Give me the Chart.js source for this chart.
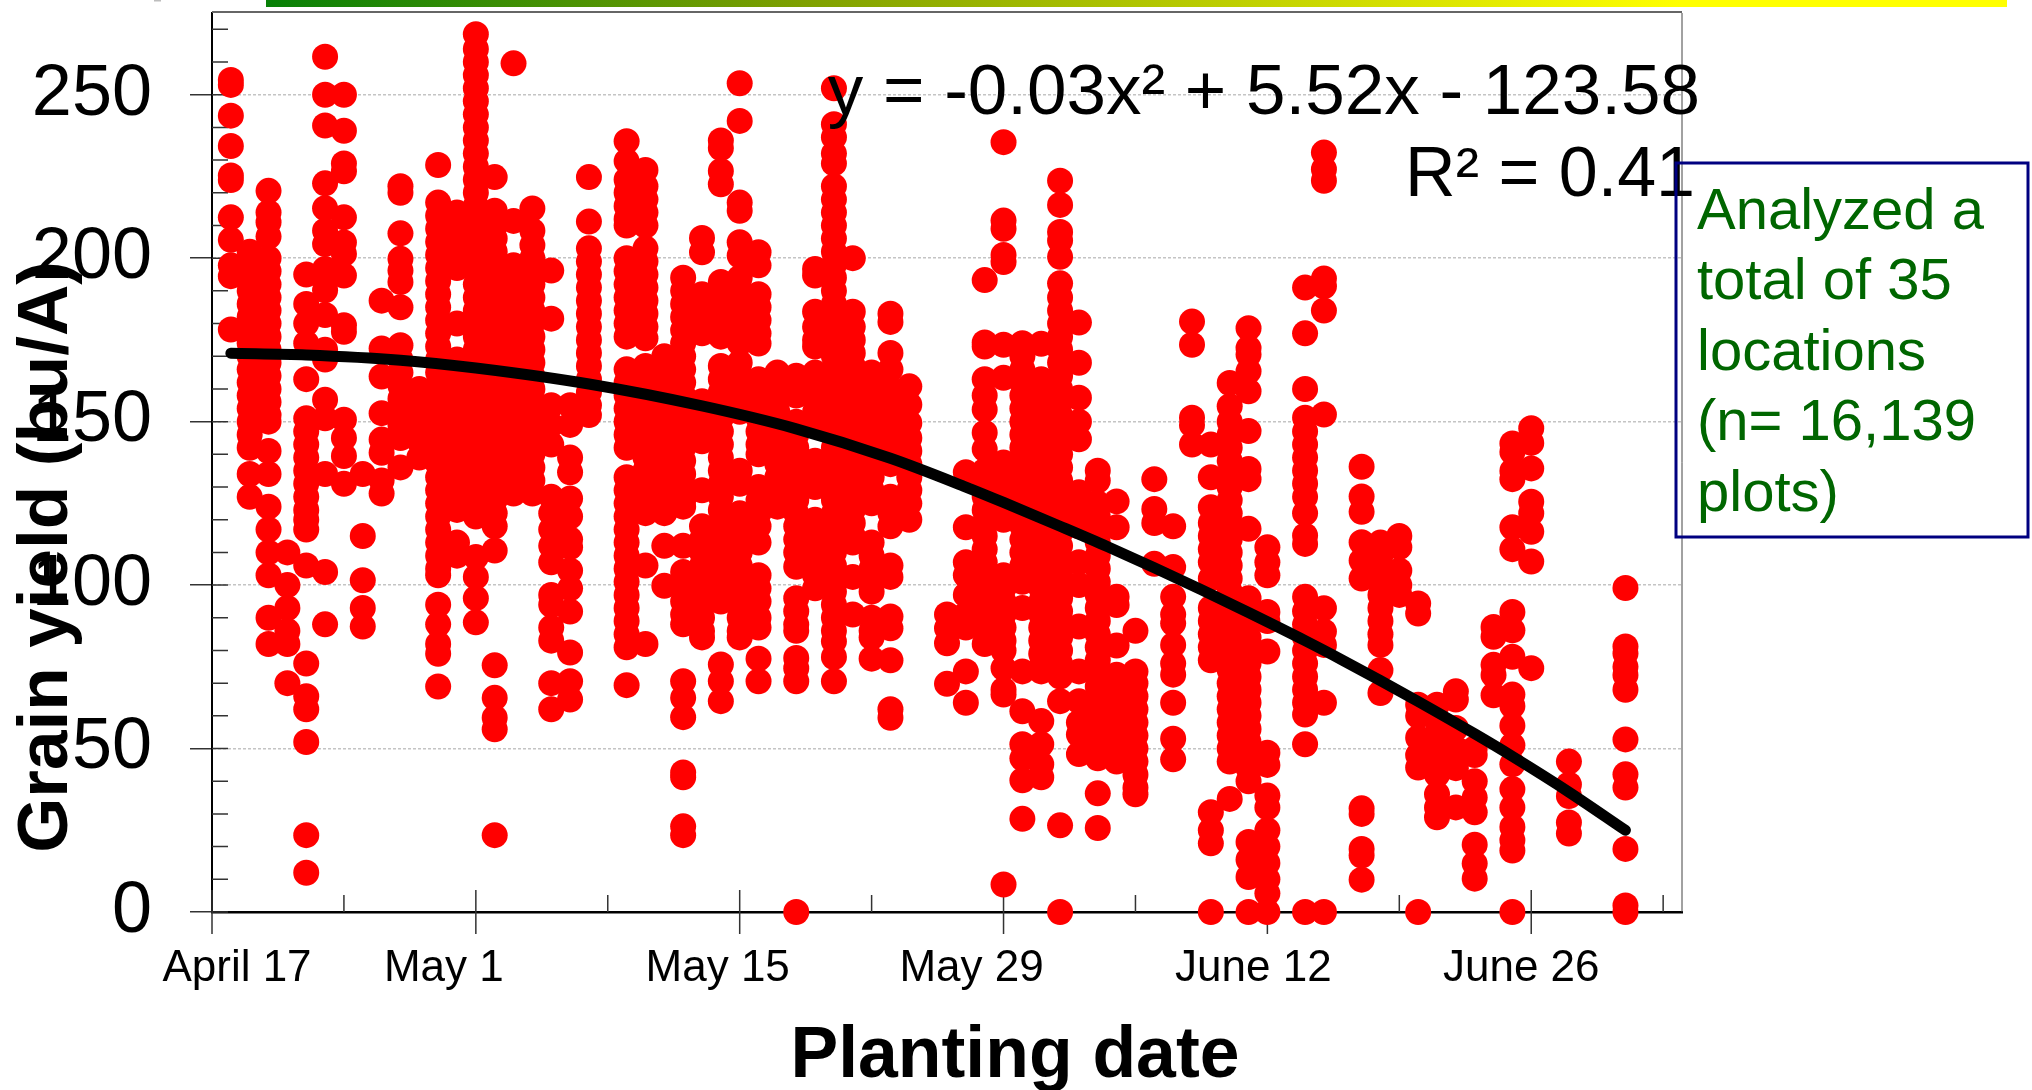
<!DOCTYPE html>
<html>
<head>
<meta charset="utf-8">
<title>Grain yield vs planting date</title>
<script src="https://cdn.jsdelivr.net/npm/chart.js@4/dist/chart.umd.min.js"></script>
<style>
  body { margin: 0; background: #fff; }
  canvas { display: block; }
</style>
</head>
<body>
<canvas id="yieldChart" width="2032" height="1090"></canvas>
<script>
// yields (bu/A), one list per planting day (days after April 17)
const d1 = [254.5,253,243.6,234.3,225.3,223.9,212.5,205.6,197.8,194.5,178.2]
const d2 = [202,198,194,190,186,182,178,174,170,166,162,158,154,150,146,142,134,127]
const d3 = [220.6,214,211,206.6,200,196,192,188,184,180,176,172,168,164,160,156,152,150,141,134,124,117,110,103,90,82]
const d4 = [110,100,93,86,82,70]
const d5 = [195,186,180,174,163,151,147,143,139,135,131,127,123,120,117,106,76,66,62,52,23.5,12]
const d6 = [261.6,250,240.6,222.9,215.3,208.4,204.3,196.7,190.2,182.6,172,169,156.7,151,134,104,88]
const d7 = [250,239,229,226.6,212.5,204.8,201.3,194.7,179.5,177.5,150.6,145,139.5,131]
const d8 = [134,115,101.5,93,87.3]
const d9 = [187,172.4,163.8,152.6,144.5,140.5,132,128]
const d10 = [222,220,207.6,199.8,196.2,192.7,185,173.4,169,165,161,157,153,149,145,136]
const d11 = [160,156,152,148,144,139]
const d12 = [228.5,217,213,209,205,201,197,193,189,185,181,177,173,169,165,161,157,153,149,145,141,137,133,129,125,121,117,113,109,105,103,94,88,82,79,69]
const d13 = [214,210,206,202,197,180,169,165,161,157,153,149,145,141,137,133,129,125,123,113,109]
const d14 = [268.5,264,260,256,252,248,244,240,236,232,228,224,220,216,212,208,204,200,196,192,188,184,180,176,172,168,164,160,156,152,148,144,140,136,132,128,124,121,108.6,102.5,96,88.6]
const d15 = [224.8,214.5,210,206,202,198,194,190,186,182,178,174,170,166,162,158,154,150,146,142,138,134,130,126,122,118,110.6,75.5,65.5,59.4,55.9,23.5]
const d16 = [259.6,211.4,197.8,194,190,186,182,178,174,170,166,162,158,154,150,146,142,138,134,130,128]
const d17 = [215.2,208.4,204,200,196,192,188,184,180,176,172,168,164,160,156,152,148,144,140,136,132,128]
const d18 = [196.2,181.5,155,149,143,127,122,117,112,107,97,94,87,83,70,62]
const d19 = [155,149,139,134.5,126.5,121,114,111.6,104.5,99,91.9,79.4,70.6,65]
const d20 = [224.8,211.2,203,199,195,191,187,183,179,175,171,167,163,159,155,152]
const d22 = [235.8,229.7,224,220,216,212,210,200,196,192,188,184,180,176,166,162,158,154,150,146,142,133,129,125,121,117,113,109,105,101,97,93,89,85,81,69.4]
const d23 = [227,222,218,214,210,203,199,195,191,187,183,179,175.5,167,163,159,155,151,147,143,139,135,131,127,122,106,82]
const d24 = [170,166,162,158,154,150,146,142,138,134,130,126,122,112,99.8]
const d25 = [194,190,186,182,178,174,170,166,162,158,154,150,146,142,138,134,130,126,124,112,104,100,95,91,88,70.6,65.5,59.6,42.7,41.2,26.2,23.5]
const d26 = [206.2,201.8,189,185,181,177,156.2,152,148,144,129,118,114,110,106,102,98,94,90,86,84]
const d27 = [236,233.7,226.7,222.6,192.7,188,184,180,176,167,163,159,155,151,147,143,139,135,131,127,123,119,115,111,107,103,99,95,75.7,70.6,64.5]
const d28 = [253.5,242,217,214.5,204.9,200.8,194,190,186,182,178,174,168,164,160,156,153,135,131,122,118,114,110,106,102,98,94,90,86,84]
const d29 = [201.8,197.8,189,185,181,177,173.9,163,159,155,151,147,143,140,130,126,122,118,113,103,99,95,90,87,77.5,70.6]
const d30 = [165,161,157,153,149,145,141,137,133,129,124]
const d31 = [164,158,150,146,142,138,134,130,126,122,118,114,110,105.6,96,92,88,86,77.7,74.6,70.6,0]
const d32 = [196.7,194.7,183.6,179,175,173,165,161,157,153,149,138,134,130,120,116,112,108,103,99]
const d33 = [252,241,237,232,229,222,218,214,210,206,202,198,194,190,186,182,178,174,170,166,162,158,154,150,146,142,138,134,130,126,122,118,114,110,106,102,98,94,90,86,82.8,78,70.6]
const d34 = [200,183.6,179,175,171,167,163,159,155,151,147,143,139,135,131,127,123,119,115,113,102.5,91]
const d35 = [165,161,157,153,149,145,141,137,133,129,125,113,109,105,101,98,90,86,84,77.5]
const d36 = [183,180.5,171,166,160,154,148,142,137,127,122,118,106,102.5,90.4,86.8,77,62,59.4]
const d37 = [160.8,155.2,149.6,145,141,137,133,129,125,120]
const d39 = [91,86.8,82.2,69.8]
const d40 = [134.5,117.7,107,103,97,91,87,73.6,64]
const d41 = [193.3,174.2,173,163,158,153.7,146.6,141.6,135,131,127,123,119,115,111,107,103,99,95,91,87,82]
const d42 = [235.5,211.5,209,201,198.8,173.5,163.4,137.5,132,128,125,120,103,99,95,91,87,83,80,74.6,68,66.5,8.4]
const d43 = [174,170,166,162,158,154,150,146,142,138,134,130,126,122,118,114,110,106,101,93,73.6,61.4,51.3,47,40.3,28.5]
const d44 = [173.8,163,159,155,151,147,143,139,135,131,127,123,119,115,111,107,103,99,95,91,87,83,79,75,73.6,58.4,51.3,45.2,41.2]
const d45 = [223.7,216.3,208,205.4,200.4,192.3,188,184,180,176,172,168,164,160,156,152,148,144,140,136,132,128,124,120,116,112,108,104,100,96,92,88,84,80,76,72,64.5,26.5,0]
const d46 = [180.3,168,157.3,150,144.6,128.4,122,118,107,100,87.3,73.6,64.5,58,54.3,48.3]
const d47 = [135,132,125,121,117,113,109,105,101,97,93,89,85,81,77,73,69,65,61,57,53,49,47,36.3,25.7]
const d48 = [125.6,117.7,96.4,93.9,81.5,72.6,68,64,60,56,52,48,46]
const d49 = [86,73.6,70,66,62,58,54,50,46,42,38,36]
const d50 = [132.4,123.3,119,106.5]
const d51 = [118,105.5,96.4,91,88.3,81.7,76,72.6,64,53,46.7]
const d52 = [180.6,173.5,151.2,149,143]
const d53 = [143,133,123.8,119,115,111,107,102,93,89,85,81,77,30.5,25,21,0]
const d54 = [161.8,154.7,150,146,142,138,134,130,126,122,118,114,110,106,102,98,94,90,86,82,78,74,70,66,62,58,54,50,46,34.6]
const d55 = [178.6,172.5,170.5,165.4,159.3,147.1,135.5,132.4,117.2,96,92,88,84,80,76,72,68,64,60,56,52,48,44,40,21.4,16,10.7,0]
const d56 = [111.6,107,103,91.8,89,79.7,48.7,45,35.6,32,25,20,15,10,5.7,0]
const d58 = [191,177,160,151.2,147,143,139,135,131,127,122,115.2,112.6,96.4,92,88,84,80,76,72,68,64,60.4,51.3,0]
const d59 = [232.3,227.2,223.7,193.8,191.4,184,152.2,92.9,85.8,81.7,64,0]
const d61 = [136.2,127.1,122.4,113.1,107.5,102,31.7,30,19.3,17.3,9.9]
const d62 = [113,109,105,101,97,93,89,85,81.7,74,67]
const d63 = [115,111.6,104.5,100,97]
const d64 = [94.4,91.3,63.4,60,53.3,48,44.2,0]
const d65 = [63.4,58.4,54,50,46,42,36,32,29]
const d66 = [67.5,65,56.3,50,44,32]
const d67 = [50,48,40,35,30.5,20.6,14.8,10.2]
const d68 = [87.2,84.2,75.6,72.5,66.3]
const d69 = [143.3,140.7,134.9,132.4,117.7,111,91.8,86.2,78.1,66.5,63,57,51,45.2,37.6,32,26,22,18.8,0]
const d70 = [148,143.5,135.7,125.5,122,116.3,107.2,74.6]
const d72 = [46,39,35.5,27.4,24]
const d75 = [99.1,81.2,79.1,75,72.5,68,52.8,42.1,38.1,19.3,2,0]

const plantingDays = [1,2,3,4,5,6,7,8,9,10,11,12,13,14,15,16,17,18,19,20,22,23,24,25,26,27,28,29,30,31,32,33,34,35,36,37,39,40,41,42,43,44,45,46,47,48,49,50,51,52,53,54,55,56,58,59,61,62,63,64,65,66,67,68,69,70,72,75]
const yieldLists = [d1,d2,d3,d4,d5,d6,d7,d8,d9,d10,d11,d12,d13,d14,d15,d16,d17,d18,d19,d20,d22,d23,d24,d25,d26,d27,d28,d29,d30,d31,d32,d33,d34,d35,d36,d37,d39,d40,d41,d42,d43,d44,d45,d46,d47,d48,d49,d50,d51,d52,d53,d54,d55,d56,d58,d59,d61,d62,d63,d64,d65,d66,d67,d68,d69,d70,d72,d75]

const trendDays = [1,5,10,14,20,26,31,36,40,42,45,47.5,50,52.5,55,58,60,62,64,67,69,72,75]
const trendYields = [170.9,170.4,168.8,166.4,161.5,154.8,147.8,138.8,130,125.3,118,111.8,105.3,98.6,91.6,83,77,70.8,64.4,54.5,47.6,36.7,25]

const yTicks = [0,50,100,150,200,250]
const yMinorTicks = [10,20,30,40,60,70,80,90,110,120,130,140,160,170,180,190,210,220,230,240,260,270]
const xTicks = [0,14,28,42,56,70]
const xMinorTicks = [7,21,35,49,63,77]
const xTickLabels = ['April 17','May 1','May 15','May 29','June 12','June 26']
// the date labels sit off their ticks in the original
const xLabelShift = [25,-32,-22,-32,-14,-10]

const noteLines = ['Analyzed a','total of 35','locations','(n= 16,139','plots)']

const FONT = '"Liberation Sans", Arial, sans-serif'
Chart.defaults.font.family = FONT

const scatterPoints = []
plantingDays.forEach((day, i) => {
  yieldLists[i].forEach(v => scatterPoints.push({ x: day, y: v }))
})
const trendPoints = trendDays.map((day, i) => ({ x: day, y: trendYields[i] }))

const decor = {
  id: 'decor',
  beforeDatasetsDraw(chart) {
    const ctx = chart.ctx
    const { top, right, bottom, left } = chart.chartArea
    const x = chart.scales.x
    const y = chart.scales.y
    ctx.save()
    // frame and top bar
    const bar = ctx.createLinearGradient(266, 0, 1680, 0)
    bar.addColorStop(0, '#078007')
    bar.addColorStop(0.38, '#7fa000')
    bar.addColorStop(1, '#ffff00')
    ctx.fillStyle = bar
    ctx.fillRect(266, 0, 1741, 7)
    ctx.fillStyle = '#bdbdbd'
    ctx.fillRect(154, 0, 7, 1.5)
    ctx.strokeStyle = '#666'
    ctx.lineWidth = 2
    ctx.beginPath()
    ctx.moveTo(left, top - 1)
    ctx.lineTo(right, top - 1)
    ctx.stroke()
    ctx.strokeStyle = '#444'
    ctx.lineWidth = 1
    ctx.beginPath()
    ctx.moveTo(right, top)
    ctx.lineTo(right, bottom)
    ctx.stroke()
    // inward ticks
    ctx.strokeStyle = '#333'
    ctx.lineWidth = 1.5
    ctx.beginPath()
    yTicks.concat(yMinorTicks).forEach(v => {
      ctx.moveTo(left, y.getPixelForValue(v))
      ctx.lineTo(left + 16, y.getPixelForValue(v))
    })
    xMinorTicks.forEach(v => {
      ctx.moveTo(x.getPixelForValue(v), bottom)
      ctx.lineTo(x.getPixelForValue(v), bottom - 17)
    })
    xTicks.forEach(v => {
      ctx.moveTo(x.getPixelForValue(v), bottom - 22)
      ctx.lineTo(x.getPixelForValue(v), bottom + 22)
    })
    ctx.stroke()
    ctx.restore()
  },
  afterDraw(chart) {
    const ctx = chart.ctx
    const x = chart.scales.x
    ctx.save()
    ctx.fillStyle = '#000'
    ctx.textBaseline = 'alphabetic'
    ctx.textAlign = 'center'
    ctx.font = '44px ' + FONT
    xTickLabels.forEach((label, i) => {
      ctx.fillText(label, x.getPixelForValue(xTicks[i]) + xLabelShift[i], 981)
    })
    ctx.font = 'bold 71.5px ' + FONT
    ctx.fillText('Planting date', 1015, 1077)
    ctx.save()
    ctx.translate(67, 557)
    ctx.rotate(-Math.PI / 2)
    ctx.font = 'bold 71px ' + FONT
    ctx.fillText('Grain yield (bu/A)', 0, 0)
    ctx.restore()
    ctx.textAlign = 'right'
    ctx.font = '71px ' + FONT
    ctx.fillText('y = -0.03x² + 5.52x - 123.58', 1700, 114)
    ctx.font = '70px ' + FONT
    ctx.fillText('R² = 0.41', 1695, 196)
    // note box
    ctx.strokeStyle = '#000080'
    ctx.lineWidth = 3
    ctx.strokeRect(1676, 163, 352, 374)
    ctx.textAlign = 'left'
    ctx.fillStyle = '#006600'
    ctx.font = '58px ' + FONT
    noteLines.forEach((line, i) => ctx.fillText(line, 1697, 229 + i * 70.4))
    ctx.restore()
  }
}

new Chart(document.getElementById('yieldChart').getContext('2d'), {
  type: 'scatter',
  data: {
    datasets: [
      {
        label: 'Trend',
        data: trendPoints,
        showLine: true,
        borderColor: '#000',
        borderWidth: 11,
        borderCapStyle: 'round',
        cubicInterpolationMode: 'monotone',
        pointRadius: 0,
        clip: false,
        order: 1
      },
      {
        label: 'Plots',
        data: scatterPoints,
        backgroundColor: '#ff0000',
        borderWidth: 0,
        pointRadius: 13,
        clip: false,
        order: 2
      }
    ]
  },
  options: {
    responsive: false,
    animation: false,
    layout: { padding: { top: 8, right: 350, bottom: 0, left: 0 } },
    plugins: {
      legend: { display: false },
      tooltip: { enabled: false },
      title: { display: false }
    },
    scales: {
      x: {
        type: 'linear',
        min: 0,
        max: 78,
        afterBuildTicks(scale) {
          scale.ticks = xTicks.map(v => ({ value: v }))
        },
        afterFit(scale) {
          scale.height = 178
        },
        ticks: { display: false },
        grid: { display: false },
        border: { display: true, color: '#000', width: 2.5 }
      },
      y: {
        min: 0,
        max: 275,
        afterBuildTicks(scale) {
          scale.ticks = yTicks.map(v => ({ value: v }))
        },
        afterFit(scale) {
          scale.width = 212
          scale.paddingTop = 0
          scale.paddingBottom = 0
        },
        ticks: {
          color: '#000',
          font: { size: 72 },
          padding: 38
        },
        grid: {
          color: '#c4c4c4',
          lineWidth: 1.5,
          tickColor: '#333',
          tickLength: 22,
          tickBorderDash: [],
          borderDash: [3, 2]
        },
        border: { color: '#000', width: 2, dash: [3, 2] }
      }
    }
  },
  plugins: [decor]
})
</script>
</body>
</html>
